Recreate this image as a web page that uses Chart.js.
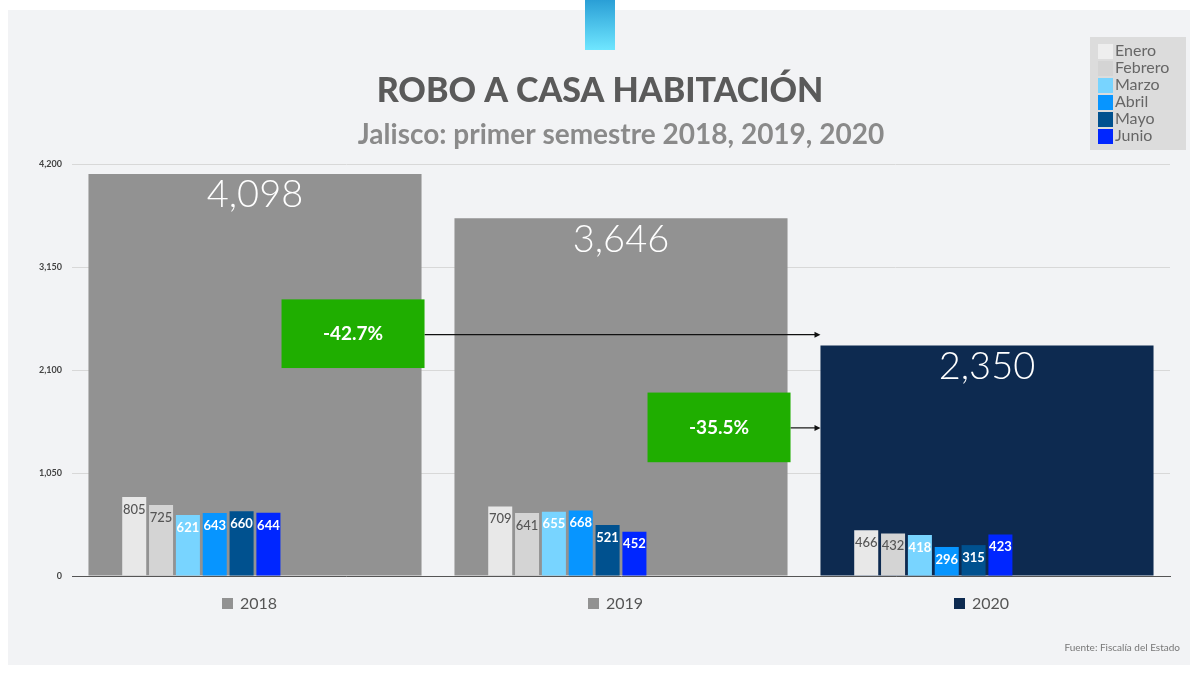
<!DOCTYPE html><html><head><meta charset="utf-8">
<script src="https://cdn.jsdelivr.net/npm/chart.js@4/dist/chart.umd.min.js"></script>
<style>html,body{margin:0;background:#fff;}#wrap{position:absolute;left:8px;top:10px;width:1182px;height:655px;background:#f2f3f5}
#deco{position:absolute;left:585px;top:0;width:30px;height:50px;background:linear-gradient(#2a9fd6,#6fe6ff)}</style></head><body>
<div id="wrap"></div><div id="deco"></div>
<canvas id="c" width="1200" height="675" style="position:absolute;left:0;top:0"></canvas>
<script>
const years=["2018","2019","2020"];
const totals=[4098,3646,2350];
const months=["Enero","Febrero","Marzo","Abril","Mayo","Junio"];
const monthly=[[805,709,466],[725,641,432],[621,655,418],[643,668,296],[660,521,315],[644,452,423]];
const changes=[{text:"-42.7%",y1:2120,y2:2820,arrowY:2460,fromIdx:0},{text:"-35.5%",y1:1160,y2:1870,arrowY:1510,fromIdx:1}];
const monthColors=["#e8e8e8","#d4d4d4","#78d4ff","#0795ff","#00518f","#0026ff"];
const totalColors=["#929292","#929292","#0d2a50"];
const yTicks=[0,1050,2100,3150,4200];
const F="Lato, 'Noto Sans', sans-serif";
const ds=[{label:"Total",data:totals,backgroundColor:totalColors,xAxisID:"x",grouped:false,barPercentage:0.91,categoryPercentage:1,order:2}];
months.forEach((m,i)=>ds.push({label:m,data:monthly[i],backgroundColor:monthColors[i],xAxisID:"x2",barPercentage:0.895,categoryPercentage:0.88,order:1}));
const deco={id:"deco",afterDatasetsDraw(ch){
 const c=ch.ctx,x=ch.scales.x,y=ch.scales.y;
 c.save();c.textAlign="center";c.textBaseline="top";
 c.fillStyle="#fff";c.font="300 38px "+F;
 ch.getDatasetMeta(0).data.forEach((b,i)=>c.fillText(totals[i].toLocaleString("en-US"),b.x,b.y+2));
 for(let d=1;d<=6;d++){ch.getDatasetMeta(d).data.forEach((b,i)=>{c.fillStyle=d<=2?"#555":"#fff";c.font=(d<=2?"500 ":"bold ")+"13px "+F;c.fillText(monthly[d-1][i],b.x,b.y+6);});}
 const tb=ch.getDatasetMeta(0).data;
 changes.forEach(cg=>{
  const b=tb[cg.fromIdx],r=b.x+b.width/2+3,l=r-143,ay=y.getPixelForValue(cg.arrowY),ex=tb[2].x-tb[2].width/2;
  c.strokeStyle="#111";c.lineWidth=1.2;c.beginPath();c.moveTo(r,ay);c.lineTo(ex-4,ay);c.stroke();
  c.fillStyle="#111";c.beginPath();c.moveTo(ex,ay);c.lineTo(ex-6,ay-3);c.lineTo(ex-6,ay+3);c.fill();
  const t=y.getPixelForValue(cg.y2),bt=y.getPixelForValue(cg.y1);
  c.fillStyle="#1fae00";c.fillRect(l,t,r-l,bt-t);
  c.fillStyle="#fff";c.font="bold 19px "+F;c.textBaseline="middle";c.fillText(cg.text,(l+r)/2,(t+bt)/2);c.textBaseline="top";
 });
 c.font="16px "+F;c.textBaseline="middle";c.textAlign="left";
 years.forEach((yr,i)=>{const px=x.getPixelForValue(i);c.fillStyle=totalColors[i];c.fillRect(px-33,598,11,11);c.fillStyle="#555";c.fillText(yr,px-15,604);});
 c.textAlign="center";c.fillStyle="#5a5a5a";c.font="900 34px "+F;c.fillText("ROBO A CASA HABITACIÓN",600,91);
 c.fillStyle="#8a8a8a";c.font="bold 28px "+F;c.fillText("Jalisco: primer semestre 2018, 2019, 2020",621,135);
 c.textAlign="right";c.fillStyle="#777";c.font="10px "+F;c.fillText("Fuente: Fiscalía del Estado",1180,648);
 c.fillStyle="#dcdcdc";c.fillRect(1090,37,96,113);
 c.textAlign="left";c.font="16px "+F;
 months.forEach((m,i)=>{const yy=51+i*17;c.fillStyle=monthColors[i]==="#e8e8e8"?"#eeeeee":monthColors[i];c.fillRect(1098,yy-7,15,15);c.fillStyle="#666";c.fillText(m,1115,yy);});
 c.restore();}};
new Chart(document.getElementById("c"),{type:"bar",data:{labels:years,datasets:ds},plugins:[deco],
options:{responsive:false,animation:false,layout:{padding:{left:0,right:30,top:164,bottom:91}},
plugins:{legend:{display:false},tooltip:{enabled:false}},
scales:{x:{ticks:{display:false},grid:{display:false},border:{color:"#555"}},
x2:{display:false,grid:{display:false}},
y:{min:0,max:4200,afterBuildTicks(s){s.ticks=yTicks.map(v=>({value:v}));},afterFit(s){s.width=72;},
ticks:{color:"#444",font:{size:9,weight:"bold",family:F},callback:v=>v.toLocaleString("en-US"),padding:10},
grid:{color:"#d8d8d8",drawTicks:false},border:{display:false}}}}});
</script></body></html>
